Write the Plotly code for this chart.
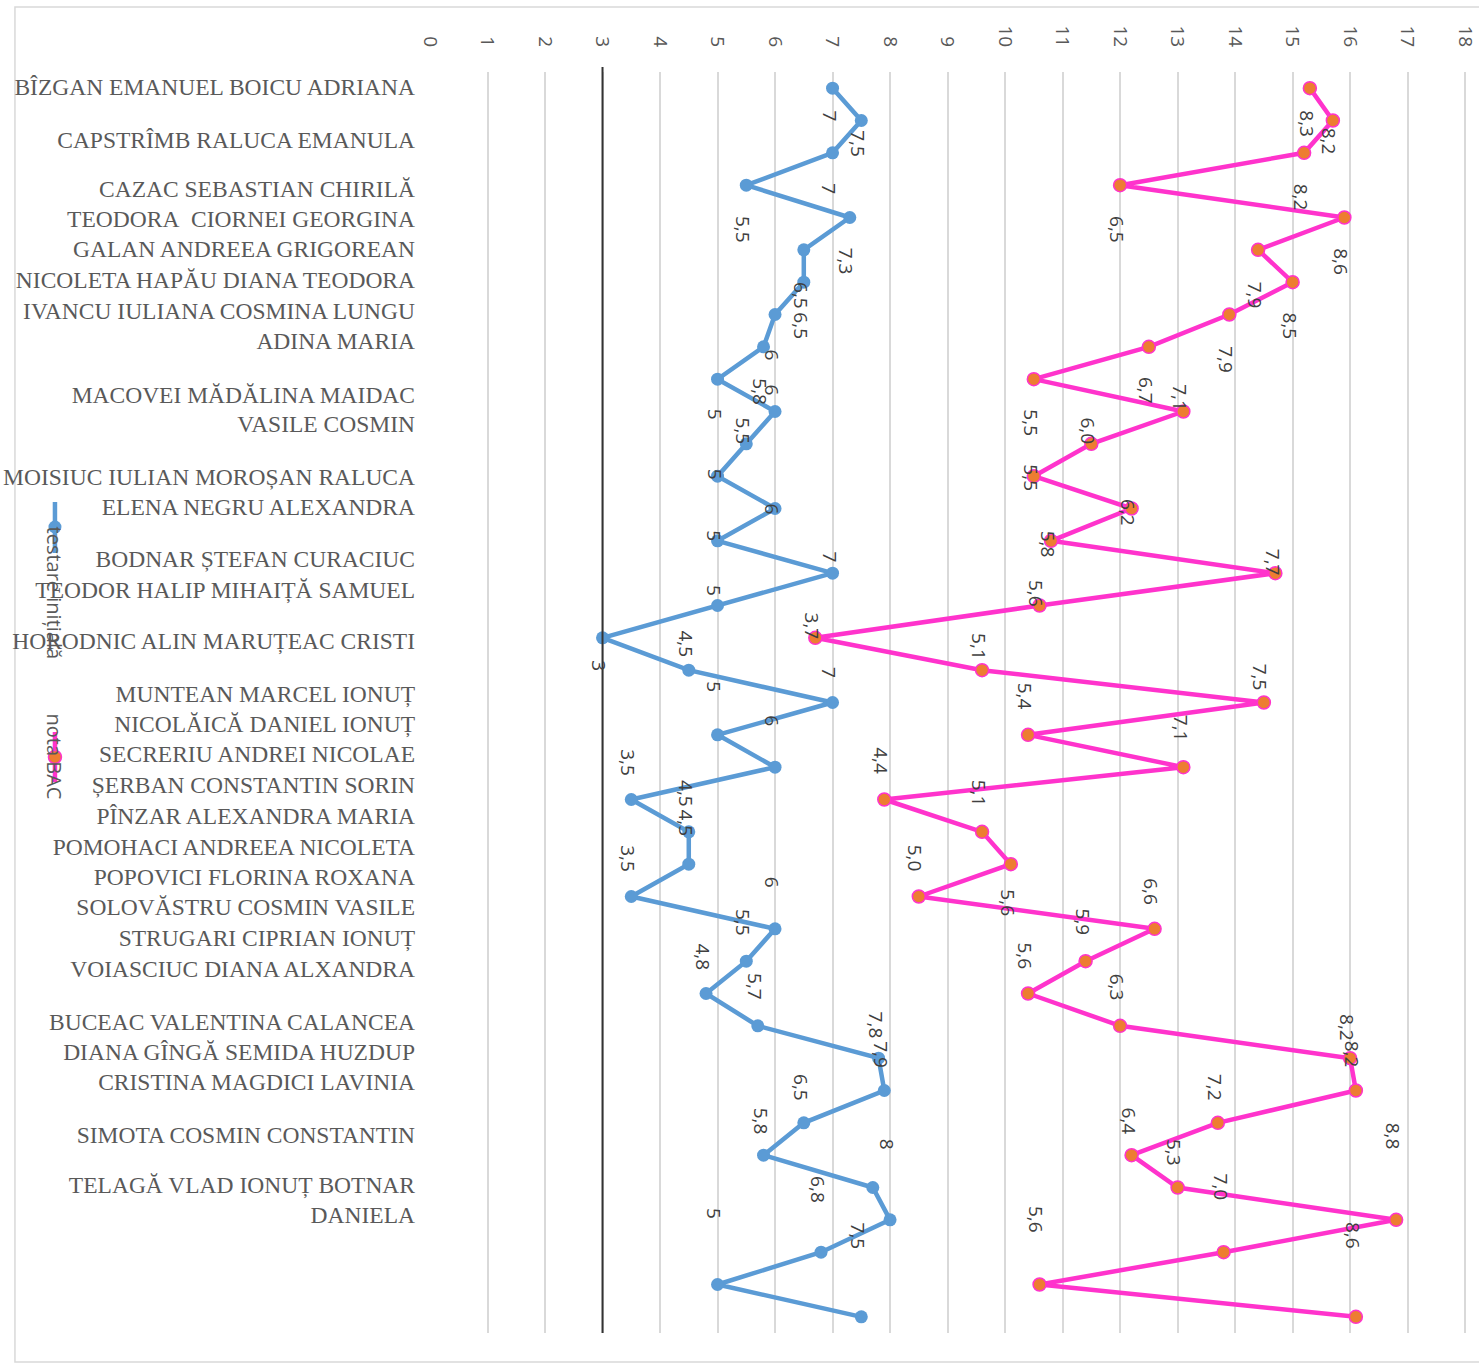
import plotly.graph_objects as go

# ---------------- data ----------------
testare = [7, 7.5, 7, 5.5, 7.3, 6.5, 6.5, 6, 5.8, 5,
           6, 5.5, 5, 6, 5, 7, 5, 3, 4.5, 7,
           5, 6, 3.5, 4.5, 4.5, 3.5, 6, 5.5, 4.8, 5.7,
           7.8, 7.9, 6.5, 5.8, 7.7, 8, 6.8, 5, 7.5]
nota_bac = [8.3, 8.2, 8.2, 6.5, 8.6, 7.9, 8.5, 7.9, 6.7, 5.5,
            7.1, 6.0, 5.5, 6.2, 5.8, 7.7, 5.6, 3.7, 5.1, 7.5,
            5.4, 7.1, 4.4, 5.1, 5.6, 5.0, 6.6, 5.9, 5.6, 6.3,
            8.2, 8.2, 7.2, 6.4, 5.3, 8.8, 7.0, 5.6, 8.6]
value_ticks = list(range(0, 19))

category_lines = [
    "BÎZGAN EMANUEL BOICU ADRIANA",
    "CAPSTRÎMB RALUCA EMANULA",
    "CAZAC SEBASTIAN CHIRILĂ",
    "TEODORA\u00a0 CIORNEI GEORGINA",
    "GALAN ANDREEA GRIGOREAN",
    "NICOLETA HAPĂU DIANA TEODORA",
    "IVANCU IULIANA COSMINA LUNGU",
    "ADINA MARIA",
    "MACOVEI MĂDĂLINA MAIDAC",
    "VASILE COSMIN",
    "MOISIUC IULIAN MOROȘAN RALUCA",
    "ELENA NEGRU ALEXANDRA",
    "BODNAR ȘTEFAN CURACIUC",
    "TEODOR HALIP MIHAIȚĂ SAMUEL",
    "HORODNIC ALIN MARUȚEAC CRISTI",
    "MUNTEAN MARCEL IONUȚ",
    "NICOLĂICĂ DANIEL IONUȚ",
    "SECRERIU ANDREI NICOLAE",
    "ȘERBAN CONSTANTIN SORIN",
    "PÎNZAR ALEXANDRA MARIA",
    "POMOHACI ANDREEA NICOLETA",
    "POPOVICI FLORINA ROXANA",
    "SOLOVĂSTRU COSMIN VASILE",
    "STRUGARI CIPRIAN IONUȚ",
    "VOIASCIUC DIANA ALXANDRA",
    "BUCEAC VALENTINA CALANCEA",
    "DIANA GÎNGĂ SEMIDA HUZDUP",
    "CRISTINA MAGDICI LAVINIA",
    "SIMOTA COSMIN CONSTANTIN",
    "TELAGĂ VLAD IONUȚ BOTNAR",
    "DANIELA",
]
series_names = ["testare inițială", "nota BAC"]

# ---------------- layout positions (not data) ----------------
category_line_pos = [-0.05, 1.60, 3.10, 4.03, 4.98, 5.93, 6.88, 7.81,
                     9.49, 10.39, 12.02, 12.94, 14.54, 15.50, 17.10,
                     18.72, 19.67, 20.60, 21.55, 22.50, 23.46, 24.39,
                     25.33, 26.29, 27.24, 28.87, 29.80, 30.73, 32.38,
                     33.92, 34.85]
# vertical offset (px, positive = downward) of each data-label centre
blue_label_off = [28, 23, 36, 44, 44, 46, 44, 40, 45, 35,
                  -22, -13, -2, 0, -5, -16, -15, 28, -26, -30,
                  -48, -47, -37, -38, -41, -38, -47, -39, -37, -39,
                  -33, -36, -35, -34, None, -76, -63, -71, -81]
pink_label_off = [36, 21, 44, 44, 44, 45, 44, 45, 44, 44,
                  -14, -13, 2, 4, 3, -11, -12, -12, -24, -25,
                  -39, -39, -39, -39, 39, -38, -37, -39, -38, -39,
                  -31, -36, -35, -34, -35, -84, -65, -65, -81]

W, H = 1479, 1364
XMAX = 18.05
UNIT = 57.5
ML, MT, MB = 430, 72, 31
PW = XMAX * UNIT
MR = W - ML - PW
PH = H - MT - MB


def px(x):
    return (x - ML) / PW


def py(y):
    return (H - MB - y) / PH


BLUE = "#5B9BD5"
PINK = "#FF33CC"
ORANGE = "#ED7D31"
GRID = "#D9D9D9"
TXT = "#595959"
LBL = "#404040"
SANS = "Open Sans, DejaVu Sans, sans-serif"
SERIF = "Liberation Serif, Times New Roman, serif"

idx = list(range(len(testare)))

fig = go.Figure()
fig.add_trace(go.Scatter(
    x=testare, y=idx, orientation="h", stackgroup="stack", fill="none",
    mode="lines+markers", name=series_names[0],
    line=dict(color=BLUE, width=4.5),
    marker=dict(size=13, color=BLUE),
))
fig.add_trace(go.Scatter(
    x=nota_bac, y=idx, orientation="h", stackgroup="stack", fill="none",
    mode="lines+markers", name=series_names[1],
    line=dict(color=PINK, width=4.5),
    marker=dict(size=13, color=ORANGE, line=dict(color=PINK, width=1.5)),
))

annotations = []


def fmt_general(v):
    return ("%g" % v).replace(".", ",")


def fmt_one(v):
    return ("%.1f" % v).replace(".", ",")


for i, v in enumerate(testare):
    off = blue_label_off[i]
    if off is None:
        continue
    annotations.append(dict(
        x=v, y=i, xref="x", yref="y", text=fmt_general(v), showarrow=False,
        textangle=90, xshift=-3, yshift=-off,
        font=dict(family=SANS, size=19, color=LBL)))

for i, (a, b) in enumerate(zip(testare, nota_bac)):
    off = pink_label_off[i]
    annotations.append(dict(
        x=a + b, y=i, xref="x", yref="y", text=fmt_one(b), showarrow=False,
        textangle=90, xshift=-3, yshift=-off,
        font=dict(family=SANS, size=19, color=LBL)))

# custom rotated legend
annotations.append(dict(x=px(40), y=py(593), xref="paper", yref="paper",
                        text=series_names[0], showarrow=False, textangle=90,
                        font=dict(family=SANS, size=20, color=TXT)))
annotations.append(dict(x=px(40), y=py(757), xref="paper", yref="paper",
                        text=series_names[1], showarrow=False, textangle=90,
                        font=dict(family=SANS, size=20, color=TXT)))

shapes = [
    # outer chart border
    dict(type="rect", xref="paper", yref="paper", x0=px(15), x1=px(1482),
         y0=py(1362), y1=py(7), line=dict(color=GRID, width=1.5), layer="below"),
    # category axis line crossing at value 3
    dict(type="line", xref="x", yref="paper", x0=3, x1=3, y0=0, y1=py(67),
         line=dict(color="#333333", width=2)),
    # legend symbols
    dict(type="line", xref="paper", yref="paper", x0=px(55), x1=px(55),
         y0=py(553), y1=py(502), line=dict(color=BLUE, width=4.5)),
    dict(type="circle", xref="paper", yref="paper", x0=px(48.5), x1=px(61.5),
         y0=py(533.5), y1=py(520.5), fillcolor=BLUE, line=dict(color=BLUE, width=0)),
    dict(type="line", xref="paper", yref="paper", x0=px(55), x1=px(55),
         y0=py(782), y1=py(732), line=dict(color=PINK, width=4.5)),
    dict(type="circle", xref="paper", yref="paper", x0=px(48.5), x1=px(61.5),
         y0=py(763.5), y1=py(750.5), fillcolor=ORANGE, line=dict(color=PINK, width=1.5)),
]

fig.update_layout(
    width=W, height=H,
    margin=dict(l=ML, r=MR, t=MT, b=MB, pad=0, autoexpand=False),
    paper_bgcolor="white", plot_bgcolor="white",
    showlegend=False,
    annotations=annotations,
    shapes=shapes,
    xaxis=dict(range=[0, XMAX], side="top", tickvals=value_ticks,
               ticktext=[str(t) for t in value_ticks], tickangle=90,
               showgrid=True, gridcolor=GRID, gridwidth=1.5, zeroline=False,
               showline=False, ticks="", ticklabelstandoff=21, automargin=False,
               tickfont=dict(family=SANS, size=19, color=TXT), fixedrange=True),
    yaxis=dict(range=[len(testare) - 0.5, -0.5], tickvals=category_line_pos,
               ticktext=category_lines, showgrid=False, zeroline=False,
               showline=False, ticks="", ticklabelstandoff=14, automargin=False,
               tickfont=dict(family=SERIF, size=23.5, color=TXT), fixedrange=True),
)

fig.write_html("out.html", config={"displayModeBar": False},
               post_script="document.body.style.margin='0';")
